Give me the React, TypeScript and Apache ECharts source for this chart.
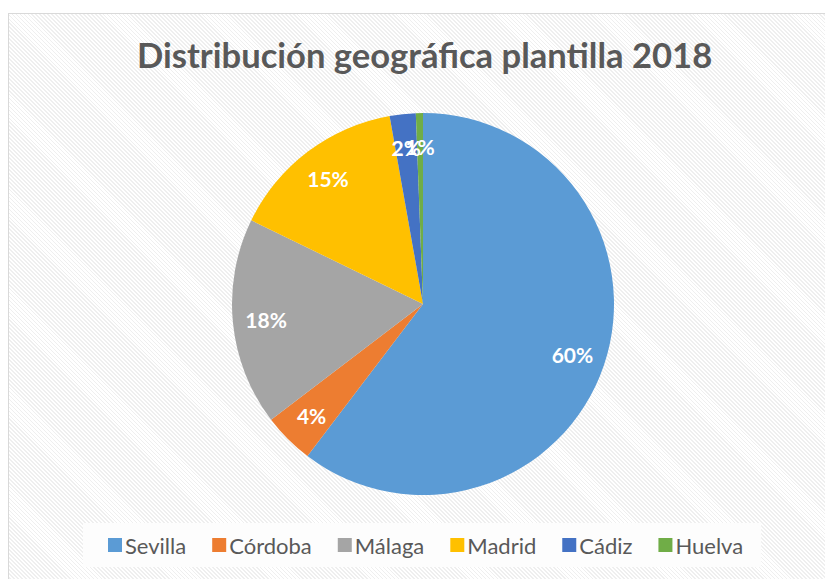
import React, { useEffect, useRef } from "react";
import * as echarts from "echarts";

const titleText = "Distribución geográfica plantilla 2018";
const categories = ["Sevilla", "Córdoba", "Málaga", "Madrid", "Cádiz", "Huelva"];
const values = [60.4, 4.3, 17.6, 15.0, 2.2, 0.6];
const colors = ["#5B9BD5", "#ED7D31", "#A5A5A5", "#FFC000", "#4472C4", "#70AD47"];

const FONT = "Lato";

export default function App() {
  const ref = useRef<HTMLDivElement>(null);
  useEffect(() => {
    document.body.style.margin = "0";
    document.body.style.overflow = "hidden";
    const chart = echarts.init(ref.current!, null, { renderer: "svg" });
    const data = categories.map((name, i) => ({
      name,
      value: values[i],
      itemStyle: { color: colors[i] },
    }));
    const center = [423, 304];
    const R = 191;
    chart.setOption({
      animation: false,
      color: colors,
      title: {
        text: titleText,
        left: 132,
        top: 32,
        textStyle: { fontFamily: FONT, fontWeight: "bold", fontSize: 34.6, color: "#595959" },
      },
      legend: {
        data: categories.map((name, i) => ({ name, itemStyle: { color: colors[i] } })),
        left: 83,
        top: 523,
        width: 700,
        padding: [11, 18, 11, 25],
        backgroundColor: "#fdfdfd",
        icon: "rect",
        itemWidth: 14,
        itemHeight: 14,
        itemGap: 26,
        textStyle: { fontFamily: FONT, fontSize: 22, color: "#595959", padding: [0, 0, 0, -2] },
      },
      series: [
        {
          type: "pie",
          center,
          radius: [0, R],
          startAngle: 90,
          clockwise: true,
          label: { show: false },
          labelLine: { show: false },
          itemStyle: { borderWidth: 0 },
          emphasis: { disabled: true },
          data,
        },
        {
          type: "pie",
          center,
          radius: [R * 0.62, R],
          startAngle: 90,
          clockwise: true,
          silent: true,
          avoidLabelOverlap: false,
          minShowLabelAngle: 0,
          labelLayout: { hideOverlap: false },
          itemStyle: { color: "rgba(0,0,0,0)", borderWidth: 0 },
          label: {
            show: true,
            position: "inside",
            formatter: (p: any) => Math.round(p.percent) + "%",
            fontFamily: FONT,
            fontWeight: "bold",
            fontSize: 21,
            color: "#ffffff",
          },
          labelLine: { show: false },
          emphasis: { disabled: true },
          data: categories.map((name, i) => ({ name, value: values[i] })),
        },
      ],
    });
    return () => chart.dispose();
  }, []);
  return (
    <div style={{ position: "fixed", left: 0, top: 0, width: 825, height: 579, overflow: "hidden", background: "#fff" }}>
      <div
        style={{
          position: "absolute",
          left: 8,
          top: 13,
          width: 840,
          height: 600,
          border: "1.5px solid #d9d9d9",
          boxSizing: "border-box",
          background:
            "repeating-linear-gradient(45deg, #ffffff 0px, #ffffff 1.6px, #efefef 1.6px, #efefef 2.8px)",
        }}
      />
      <div ref={ref} style={{ position: "absolute", left: 0, top: 0, width: 825, height: 579 }} />
    </div>
  );
}
